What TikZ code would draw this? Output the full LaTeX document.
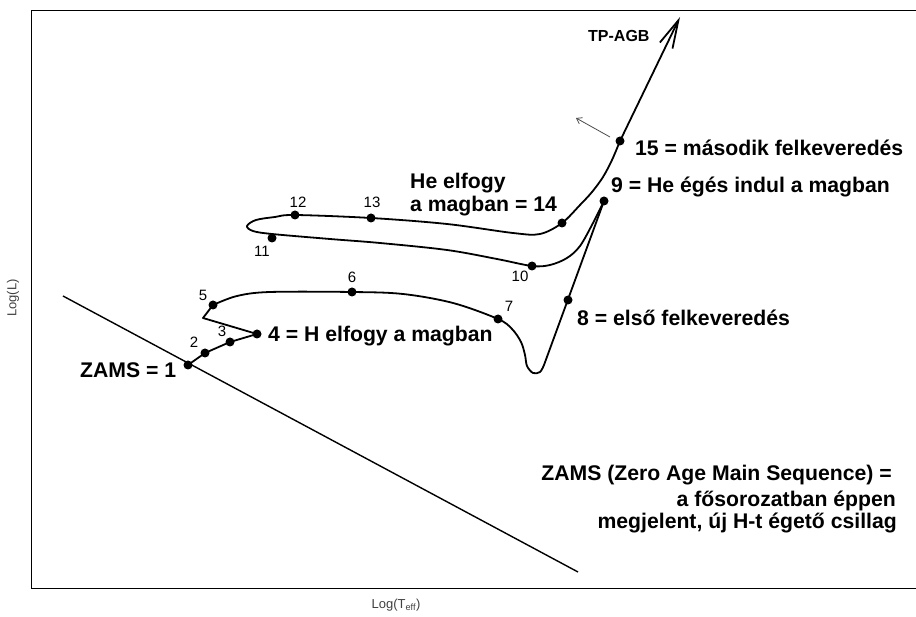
\documentclass[tikz,border=0pt]{standalone}
\usepackage{fontspec}
\setmainfont{Liberation Sans}
\usetikzlibrary{arrows.meta}
\begin{document}
\begin{tikzpicture}[x=1pt,y=-1pt,
  dot/.style={circle,fill=black,inner sep=0pt,minimum size=9pt},
  big/.style={font=\bfseries\fontsize{21.2}{24}\selectfont, inner sep=0pt},
  num/.style={font=\fontsize{15}{17}\selectfont, inner sep=0pt, anchor=base},
  axl/.style={font=\fontsize{13}{15}\selectfont, text=black!75, inner sep=0pt},
  track/.style={line width=1.8pt, line join=round, line cap=round},
]
\useasboundingbox (0,0) rectangle (916,617);
% frame
\coordinate (fr1) at (916,10);
\coordinate (fr2) at (31,10);
\coordinate (fr3) at (31,588);
\coordinate (fr4) at (916,588);
\draw[line width=0.9pt] (fr1) -- (fr2) -- (fr3) -- (fr4);
% ZAMS line
\coordinate (z1) at (63,296);
\coordinate (z2) at (578,572);
\draw[line width=1.4pt] (z1) -- (z2);
% points
\node[dot] (p1) at (188,365) {};
\node[dot] (p2) at (205,353) {};
\node[dot] (p3) at (230,342) {};
\node[dot] (p4) at (257,334) {};
\coordinate (k1) at (203,318);
\node[dot] (p5) at (213,305) {};
\node[dot] (p6) at (352,292) {};
\node[dot] (p7) at (498,319) {};
\node[dot] (p8) at (568,300) {};
\node[dot] (p9) at (604,201) {};
\node[dot] (p10) at (532,266) {};
\node[dot] (p11) at (272,238) {};
\node[dot] (p12) at (295,215) {};
\node[dot] (p13) at (371,218) {};
\node[dot] (p14) at (562,223) {};
\node[dot] (p15) at (620,141) {};
\coordinate (tip) at (680,17);
\coordinate (bot) at (544,365);
% track
\draw[track] (p1.center) -- (p2.center) -- (p3.center) -- (p4.center) -- (k1) -- (p5.center);
\draw[track] plot[smooth,tension=0.55] coordinates {(p5.center) (237,296) (270,292) (p6.center) (403,294) (453,303) (p7.center) (512,329) (521,342) (525,355) (527,366) (533,373) (540,372) (bot)} -- (p9.center);
\draw[track] plot[smooth,tension=0.55] coordinates {(p9.center) (593,223) (580,246) (567,258) (550,265) (p10.center) (497,259) (447,250) (380,243) (330,239) (272,234) (253,231) (247,226) (256,220) (275,217) (p12.center) (p13.center) (447,224) (513,233) (540,234) (p14.center) (580,205) (592,192) (603,177) (612,160) (p15.center)};
\draw[track, -{Straight Barb[length=28pt,width=14pt,line width=1.8pt]}] (p15.center) -- (tip);
% small arrow
\coordinate (sa1) at (610,137);
\coordinate (sa2) at (576,118);
\draw[black!70, line width=0.8pt, -{Straight Barb[length=5pt,width=7pt]}] (sa1) -- (sa2);
% numbers
\node[num] (n2) at (194,348) {2};
\node[num] (n3) at (222,337) {3};
\node[num] (n5) at (203,301) {5};
\node[num] (n6) at (352,283) {6};
\node[num] (n7) at (509,312) {7};
\node[num] (n10) at (520,282) {10};
\node[num] (n11) at (262,257) {11};
\node[num] (n12) at (298,208) {12};
\node[num] (n13) at (372,208) {13};
% big labels
\node[big, anchor=base west] (l1) at (80,378) {ZAMS = 1};
\node[big, anchor=base west] (l4) at (268,342) {4 = H elfogy a magban};
\node[big, anchor=base west] (l8) at (577,326) {8 = első felkeveredés};
\node[big, anchor=base west] (l9) at (611,193) {9 = He égés indul a magban};
\node[big, anchor=base west] (l15) at (635,156) {15 = második felkeveredés};
\node[big, anchor=base west] (l14a) at (410,189) {He elfogy};
\node[big, anchor=base west] (l14b) at (410,212) {a magban = 14};
\node[font=\bfseries\fontsize{16}{18}\selectfont, inner sep=0pt, anchor=base west] (tpagb) at (588,41.7) {TP-AGB};
\node[big, anchor=base east] (d1) at (892,481) {ZAMS (Zero Age Main Sequence) =};
\node[big, anchor=base east] (d2) at (896,506) {a fősorozatban éppen};
\node[big, anchor=base east] (d3) at (897,528) {megjelent, új H-t égető csillag};
% axis labels
\node[axl, rotate=90] (ay) at (13,298) {Log(L)};
\node[axl] (ax) at (396,605) {Log(T\textsubscript{eff})};
\end{tikzpicture}
\end{document}
